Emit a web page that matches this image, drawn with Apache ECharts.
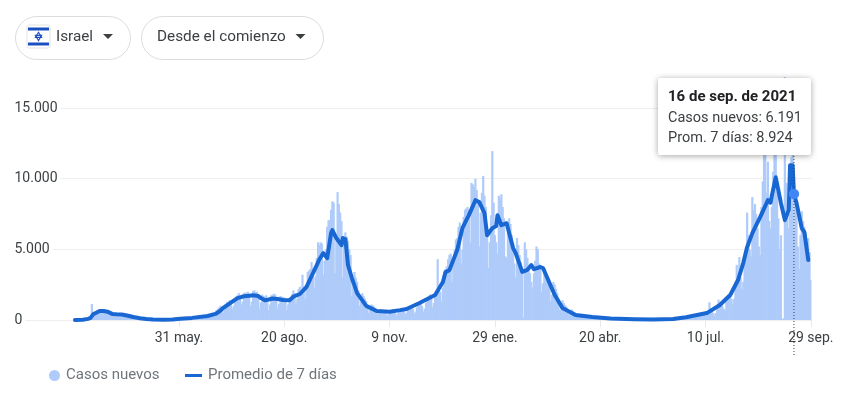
<!DOCTYPE html>
<html><head><meta charset="utf-8">
<script src="https://cdn.jsdelivr.net/npm/echarts@6/dist/echarts.min.js"></script>
<style>html,body{margin:0;padding:0;background:#fff}#c{width:857px;height:395px}</style>
</head><body><div id="c"></div>
<script>
const startDate = '2020-03-12';
const leadDays = 46;
// daily new cases, one row per week
const casosNuevos = [
10,15,10,15,20,30,40,
50,60,40,70,110,130,1130,
500,560,420,650,700,760,720,
700,660,500,560,640,620,600,
500,430,300,380,440,430,400,
420,380,260,300,390,400,380,
320,260,150,180,260,250,230,
170,130,80,90,120,110,100,
80,60,30,40,60,50,50,
30,25,15,20,25,30,30,
25,20,10,15,20,25,30,
40,50,30,40,90,100,110,
120,110,60,90,130,140,150,
170,160,100,130,200,210,220,
260,230,150,200,290,310,320,
420,380,260,400,700,800,880,
1000,900,500,700,1150,1280,1300,
1400,1250,800,1000,1500,1650,1750,
1900,1700,1100,1300,1900,1950,1900,
2000,1800,1000,1300,2050,2100,1950,
2000,1700,800,1250,1800,1700,1650,
1750,1500,700,1100,1750,1800,1850,
1800,1500,800,1150,1700,1650,1600,
1600,1350,700,1100,1550,1500,1850,
2100,1900,1150,1500,2200,2350,2150,
3200,2400,1500,2200,3400,3500,3600,
4100,3700,2300,3100,4400,5500,5300,
5500,5400,3200,4200,5000,6600,7050,
7100,7800,8400,8300,3300,6000,9050,
8200,7600,7000,3000,5500,6200,5900,
5600,5000,4600,1700,2400,3400,3000,
2700,2100,1000,1300,1900,1700,1500,
1350,1050,500,700,1100,1050,950,
850,650,400,500,750,720,680,
700,570,300,400,650,700,720,
750,580,330,450,700,720,760,
850,700,400,520,800,850,900,
950,780,450,600,900,1050,1100,
1250,1000,600,800,1200,1500,1600,
1800,1500,900,1200,1700,1900,4300,
2300,2000,1300,2300,2900,3600,3800,
4300,4600,4700,2700,3900,5000,5700,
5800,6600,6900,4000,5000,7300,7800,
7900,8000,7800,5500,9700,9600,9400,
10000,9200,8400,5200,7600,9000,10200,
8800,8000,6500,3700,5500,7400,11950,
8300,6000,5500,4700,8800,8600,8900,
8000,7200,4500,4400,6700,7200,6800,
6000,5500,4000,3000,5800,5300,4600,
4100,3300,150,5500,5000,4400,3800,
3300,2700,2300,3300,4200,5200,5000,
4000,3600,2000,2600,3700,3400,3200,
3000,2400,1300,1800,2700,2500,2200,
1900,1500,700,1000,1400,1200,1050,
950,700,350,450,750,650,560,
500,400,180,250,450,400,370,
330,270,110,180,300,270,250,
230,180,90,120,200,170,150,
130,110,40,70,130,120,100,
90,70,30,50,85,75,65,
60,45,20,30,55,50,45,
40,30,15,20,35,30,30,
25,20,10,15,25,20,20,
20,15,8,12,20,15,15,
15,12,6,10,15,15,15,
20,25,15,25,40,60,100,
120,150,90,130,220,250,280,
280,250,150,210,320,370,390,
380,350,220,300,420,460,480,
500,440,300,400,650,1250,650,
650,500,300,500,800,1450,950,
1100,1000,800,700,1300,1500,1700,
1900,1500,1100,1500,2700,3900,3100,
4450,3000,2200,2700,4000,4700,7600,
6000,5000,4500,8700,7800,8200,7500,
6500,5200,4600,8000,9800,12000,12500,
9000,11200,7000,6500,8000,10500,12500,
12000,9000,7200,5000,6000,100,100,
17200,9700,8000,6500,7500,11500,13000,
6191,8500,7900,5200,3600,6000,7700,
7000,6600,6200,4300,5800,4800,2850
];
// 7-day average read at these days since startDate
const promDias = [0,6,10,12,14,16,19,22,25,29,32,36,40,45,50,55,60,68,75,81,90,102,108,111,114,118,121,125,130,134,137,141,143,146,149,152,156,160,165,168,173,178,182,186,188,191,194,197,198,201,205,206,208,210,213,217,224,232,242,250,255,265,277,283,285,288,294,298,301,303,308,311,315,317,321,324,325,328,332,337,339,344,348,351,353,358,360,369,375,385,398,412,430,445,460,470,486,496,504,510,514,517,521,527,533,535,536,539,543,546,549,550,552,553,555,559,561,564];
const promValores = [0,20,80,150,400,500,640,640,590,420,400,390,320,210,130,70,40,20,30,90,150,280,430,600,850,1100,1300,1550,1680,1720,1750,1700,1550,1400,1450,1520,1480,1420,1400,1650,1840,2330,3100,3890,4300,4730,4380,6150,6360,5800,5300,5800,5730,3890,2970,1900,1000,640,590,700,780,1200,1770,2690,3390,3530,4950,6500,7070,7420,8480,8340,7560,6000,6500,6650,7420,6710,6850,5090,4730,3400,3550,3890,3600,3750,3680,1770,850,350,210,100,50,30,70,200,490,1060,1770,2830,4030,5160,6150,7280,8480,8300,8800,10100,8270,7070,7780,10950,10950,8924,8270,6500,6220,4240];
const tickDates = ['2020-05-31','2020-08-20','2020-11-09','2021-01-29','2021-04-20','2021-07-10','2021-09-29'];
const tickLabels = ['31 may.','20 ago.','9 nov.','29 ene.','20 abr.','10 jul.','29 sep.'];
const yTicks = [0,5000,10000,15000];
const selectedDate = '2021-09-16';
const selectedTitle = '16 de sep. de 2021';
const names = ['Casos nuevos','Promedio de 7 días'];

function iso(n){return new Date(Date.parse(startDate+'T00:00:00Z')+n*864e5).toISOString().slice(0,10);}
const cats=[];for(let i=-leadDays;i<casosNuevos.length;i++)cats.push(iso(i));
const barData=cats.map((d,i)=>i<leadDays?null:casosNuevos[i-leadDays]);
const lineData=promDias.map((d,i)=>[iso(d),promValores[i]]);
const fmt=v=>String(v).replace(/\B(?=(\d{3})+$)/g,'.');
const font='Roboto, sans-serif';
const chart=echarts.init(document.getElementById('c'),null,{renderer:'canvas'});
const isTick=(i,v)=>tickDates.includes(v);
const option={
 animation:false,
 grid:{left:14.5,right:45.5,top:37.4,bottom:75,containLabel:false},
 legend:[
  {data:[{name:names[0],icon:'circle'}],left:44,top:363,itemWidth:11,itemHeight:11,itemGap:0,selectedMode:false,
   textStyle:{fontFamily:font,fontSize:15,color:'#70757a',padding:[0,0,0,1]}},
  {data:[{name:names[1],icon:'rect'}],left:180,top:363,itemWidth:17,itemHeight:3,selectedMode:false,
   textStyle:{fontFamily:font,fontSize:15,color:'#70757a',padding:[0,0,0,1]}}
 ],
 xAxis:{type:'category',data:cats,boundaryGap:true,
  axisLine:{lineStyle:{color:'#eeeeee'}},
  axisTick:{show:true,interval:isTick,alignWithLabel:true,length:7,lineStyle:{color:'#e8e8e8'}},
  axisLabel:{interval:isTick,margin:11,fontFamily:font,fontSize:14,color:'#3c4043',hideOverlap:false,
   formatter:v=>tickLabels[tickDates.indexOf(v)]||''},
  splitLine:{show:false}},
 yAxis:{type:'value',min:0,max:20000,interval:5000,
  axisLine:{show:false},axisTick:{show:false},
  splitLine:{showMaxLine:false,lineStyle:{color:'#eeeeee'}},
  axisLabel:{inside:true,showMaxLabel:false,align:'left',margin:0,fontFamily:font,fontSize:14,color:'#3c4043',
   backgroundColor:'#fff',padding:[1,3,1,0],
   formatter:v=>yTicks.includes(v)?fmt(v):''}},
 series:[
  {name:names[0],type:'bar',data:barData,barWidth:2.2,barCategoryGap:'0%',
   itemStyle:{color:'#aecbfa'},z:2},
  {name:names[1],type:'line',data:lineData,symbol:'none',smooth:false,
   lineStyle:{color:'#1967d2',width:4,join:'round',cap:'round'},itemStyle:{color:'#1967d2'},z:3}
 ]
};
chart.setOption(option);

const selDay=Math.round((Date.parse(selectedDate)-Date.parse(startDate))/864e5);
const selVal=promValores[promDias.indexOf(selDay)];
const casoVal=casosNuevos[selDay];
const p=chart.convertToPixel({xAxisIndex:0,yAxisIndex:0},[selectedDate,selVal]);
const ink='#3c4043';
const t=(x,y,text,o={})=>({type:'text',x,y,z:o.z||20,style:Object.assign({text,fontFamily:font,fontSize:14.5,fill:ink,verticalAlign:'middle'},o.style||{})});
const pill=(x,w)=>({type:'rect',shape:{x:x+.5,y:16.5,width:w,height:43,r:21.5},style:{fill:'#fff',stroke:'#dadce0',lineWidth:1},z:10});
const tri=(x)=>({type:'polygon',shape:{points:[[x,34],[x+10,34],[x+5,39]]},style:{fill:'#3c4043'},z:11});
chart.setOption({graphic:[
 pill(15,115),pill(141,182),
 {type:'rect',shape:{x:27,y:25,width:23,height:23,r:2},style:{fill:'#fff',stroke:'#e3e3e3',lineWidth:1},z:11},
 {type:'rect',shape:{x:28,y:27.5,width:21,height:3},style:{fill:'#1a4fc0'},z:12},
 {type:'rect',shape:{x:28,y:42.5,width:21,height:3},style:{fill:'#1a4fc0'},z:12},
 {type:'polygon',shape:{points:[[38.5,32.2],[41.6,37.4],[35.4,37.4]]},style:{fill:'none',stroke:'#1a4fc0',lineWidth:1.1},z:12},
 {type:'polygon',shape:{points:[[38.5,40.6],[41.6,35.4],[35.4,35.4]]},style:{fill:'none',stroke:'#1a4fc0',lineWidth:1.1},z:12},
 t(56,37.5,'Israel',{style:{fontSize:15.3}}),
 tri(103),
 t(157,37.5,'Desde el comienzo',{style:{fontSize:15.3}}),
 tri(295.5),
 {type:'line',shape:{x1:p[0],y1:150,x2:p[0],y2:355},style:{stroke:'#3c4043',lineWidth:1,lineDash:[1,2]},z:8},
 {type:'circle',shape:{cx:p[0],cy:p[1],r:5.2},style:{fill:'#4285f4'},z:9},
 {type:'rect',shape:{x:658,y:78,width:153,height:77,r:2},style:{fill:'#fff',shadowBlur:6,shadowColor:'rgba(0,0,0,0.35)',shadowOffsetY:1},z:15},
 t(668,97,selectedTitle,{style:{fontWeight:'bold',fontSize:15,fill:'#202124'}}),
 t(668,118,names[0]+': '+fmt(casoVal)),
 t(668,138,'Prom. 7 días: '+fmt(selVal))
]});
</script></body></html>
